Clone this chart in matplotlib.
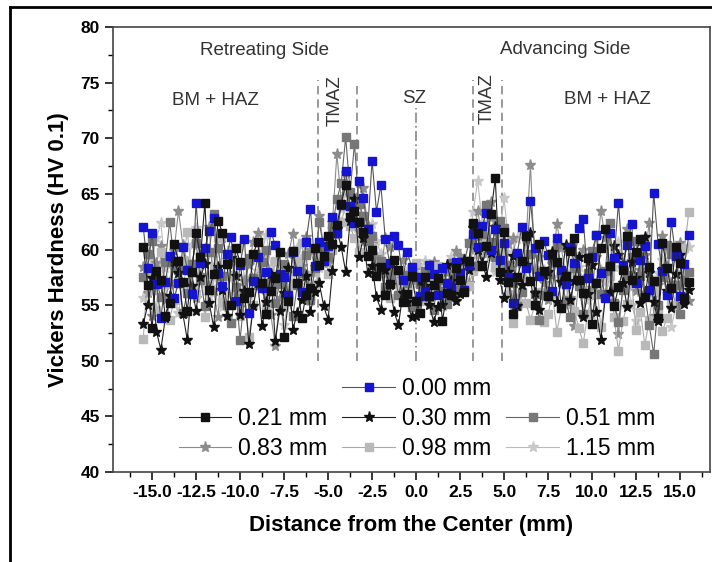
import numpy as np
import matplotlib
matplotlib.use("Agg")
import matplotlib.pyplot as plt
from matplotlib.lines import Line2D

plt.rcParams['font.family'] = ['Liberation Sans', 'DejaVu Sans']

# hardness profiles, one reading every 0.25 mm from -15.5 to 15.5 mm
hv_000 = [62.0, 58.3, 61.5, 56.9, 53.8, 57.1, 59.4, 55.6, 57.0, 60.2,
          58.2, 56.0, 64.2, 58.8, 60.1, 61.7, 62.8, 57.9, 56.7, 59.6,
          61.1, 55.4, 58.6, 60.9, 54.3, 57.2, 59.3, 56.5, 58.0, 61.6,
          60.4, 57.8, 57.5, 55.9, 59.8, 58.1, 56.2, 60.7, 63.6, 58.5,
          60.7, 59.0, 60.3, 62.9, 61.5, 64.0, 67.1, 63.9, 62.4, 66.2,
          64.6, 61.8, 68.0, 63.4, 65.8, 60.9, 58.8, 61.2, 60.4, 57.3,
          59.8, 58.4, 57.5, 55.8, 56.3, 58.6, 57.8, 55.9, 58.3, 57.0,
          56.6, 58.9, 57.9, 56.4, 58.6, 61.4, 60.2, 62.1, 63.3, 60.0,
          61.8, 59.1, 60.6, 57.5, 55.2, 59.7, 62.0, 58.3, 64.4, 60.1,
          57.6, 60.8, 59.5, 56.3, 61.0, 58.2, 56.9, 60.2, 58.8, 61.9,
          62.7, 57.4, 59.3, 61.3, 57.9, 55.6, 61.5, 59.2, 64.2, 58.6,
          60.4, 62.3, 57.0, 59.1, 60.3, 56.4, 65.1, 60.5, 58.1, 55.9,
          62.5, 59.4, 55.8, 58.7, 61.3]
hv_021 = [60.2, 56.8, 52.9, 58.1, 57.3, 54.0, 55.2, 60.5, 59.0, 57.1,
          54.5, 58.0, 61.5, 59.3, 64.2, 56.4, 57.8, 62.6, 61.5, 58.7,
          55.0, 60.1, 58.9, 55.6, 56.2, 59.6, 60.7, 57.0, 54.2, 56.3,
          57.4, 59.8, 52.1, 55.4, 59.9, 57.0, 53.8, 55.9, 56.5, 60.1,
          58.6, 59.4, 61.2, 60.5, 62.2, 64.1, 65.8, 62.9, 63.5, 62.5,
          61.6, 59.4, 60.0, 57.6, 58.4, 55.9, 56.9, 59.1, 58.2, 55.3,
          56.0, 57.6, 55.4, 54.3, 57.5, 55.8, 56.8, 57.4, 53.6, 56.1,
          55.9, 58.3, 57.3, 56.2, 59.0, 62.4, 61.5, 58.5, 60.3, 63.2,
          66.4, 58.0, 61.6, 57.1, 54.2, 57.5, 59.0, 61.2, 57.2, 55.0,
          60.5, 58.1, 55.8, 59.6, 58.9, 54.7, 57.6, 59.9, 61.0, 57.3,
          56.1, 59.2, 53.3, 57.0, 60.1, 61.8, 58.5, 54.9, 56.6, 58.2,
          61.2, 57.3, 59.8, 60.9, 55.7, 58.4, 57.2, 53.8, 60.6, 58.3,
          56.5, 60.2, 58.8, 55.6, 57.1]
hv_030 = [53.3, 55.0, 57.4, 52.6, 51.0, 53.8, 55.8, 58.9, 57.9, 54.2,
          51.9, 56.7, 54.5, 57.5, 58.7, 55.2, 53.0, 58.4, 56.4, 54.0,
          59.2, 57.6, 54.1, 56.3, 51.5, 54.9, 57.0, 53.1, 55.3, 57.8,
          51.8, 54.5, 56.1, 58.3, 52.8, 54.3, 55.5, 57.6, 54.4, 56.2,
          57.0, 54.9, 53.7, 58.1, 61.8, 60.2, 58.0, 62.6, 64.5, 59.3,
          61.0, 57.9, 58.5, 55.7, 54.6, 58.2, 56.8, 54.4, 53.2, 56.1,
          55.3, 53.9, 54.0, 57.2, 56.7, 55.0, 53.5, 54.8, 55.0, 58.6,
          57.2, 55.4, 56.0, 59.1, 58.2, 61.9, 60.0, 58.8, 57.5, 59.7,
          62.0, 57.3, 55.6, 58.0, 59.4, 54.9, 56.8, 58.6, 61.5, 56.1,
          54.6, 57.7, 58.0, 59.8, 55.3, 57.1, 60.4, 55.5, 57.2, 59.3,
          53.9, 56.0, 58.6, 54.4, 51.9, 55.7, 56.2, 60.3, 59.5, 57.0,
          54.8, 58.9, 57.4, 55.2, 61.1, 57.9, 55.3, 53.6, 58.2, 56.3,
          54.7, 57.8, 59.5, 55.1, 56.4]
hv_051 = [57.5, 59.6, 60.8, 57.2, 55.7, 58.9, 62.5, 59.0, 58.2, 54.3,
          56.1, 58.7, 60.6, 57.3, 54.9, 59.8, 63.2, 60.1, 57.6, 55.0,
          53.4, 56.6, 51.9, 55.8, 59.2, 57.4, 56.8, 58.9, 60.0, 57.1,
          55.2, 56.9, 58.7, 55.6, 54.0, 56.8, 57.9, 59.5, 55.5, 58.3,
          62.5, 60.1, 59.3, 62.0, 64.5, 66.0, 70.1, 65.2, 69.5, 64.1,
          63.0, 60.8, 61.2, 58.3, 59.0, 56.6, 57.6, 58.2, 55.9, 57.7,
          57.0, 54.8, 55.2, 56.9, 58.1, 55.7, 54.6, 57.3, 56.3, 55.1,
          58.8, 57.4, 56.4, 59.0, 60.6, 62.2, 58.5, 61.4, 64.0, 60.7,
          59.3, 62.6, 61.9, 58.6, 57.0, 54.9, 56.2, 58.4, 59.6, 56.0,
          53.7, 55.9, 57.8, 59.1, 60.5, 57.6, 55.4, 53.9, 58.3, 56.7,
          54.2, 57.9, 59.9, 61.3, 56.0, 58.1, 62.4, 55.2, 53.5, 56.4,
          57.7, 59.3, 60.8, 57.6, 55.9, 53.2, 50.6, 55.0, 57.5, 60.4,
          59.6, 56.8, 54.2, 57.3, 58.0]
hv_083 = [58.4, 56.1, 54.0, 58.8, 60.3, 55.5, 57.1, 59.9, 63.5, 60.4,
          58.9, 56.2, 55.6, 57.7, 59.8, 62.0, 56.3, 53.9, 61.0, 59.1,
          57.5, 55.3, 54.8, 57.2, 58.6, 60.7, 61.5, 57.8, 56.0, 54.1,
          51.3, 55.6, 57.3, 59.6, 61.4, 56.9, 58.5, 61.1, 60.0, 58.4,
          63.0, 60.2, 58.8, 62.4, 68.6, 64.3, 66.9, 64.8, 63.2, 61.7,
          65.5, 62.1, 60.5, 59.3, 58.1, 61.0, 60.2, 58.0, 57.4, 59.1,
          55.8, 57.3, 58.6, 55.9, 56.6, 57.7, 58.9, 56.2, 55.1, 58.0,
          57.6, 59.9, 59.4, 56.3, 57.0, 60.8, 63.5, 61.2, 59.6, 64.3,
          62.6, 59.7, 58.1, 60.5, 61.0, 58.8, 57.4, 60.9, 67.6, 58.2,
          59.3, 57.0, 55.5, 58.7, 62.3, 60.1, 57.8, 55.6, 53.1, 57.4,
          60.0, 58.9, 56.5, 59.3, 63.5, 61.0, 58.0, 55.2, 52.4, 56.6,
          61.8, 59.0, 56.3, 58.2, 59.5, 62.4, 54.0, 56.8, 61.2, 58.5,
          57.0, 54.9, 60.6, 57.9, 55.4]
hv_098 = [52.0, 57.9, 56.4, 54.6, 59.8, 56.9, 53.7, 55.5, 57.2, 59.1,
          61.6, 58.0, 56.0, 59.4, 53.9, 56.7, 58.4, 61.0, 55.3, 57.6,
          60.0, 56.3, 54.0, 55.8, 52.1, 55.0, 57.5, 59.3, 55.0, 56.6,
          59.0, 57.2, 54.8, 56.5, 57.0, 58.9, 60.6, 57.7, 56.1, 58.0,
          59.4, 60.7, 57.8, 60.0, 61.4, 62.5, 63.9, 62.1, 61.0, 59.8,
          62.8, 61.5, 60.2, 58.6, 57.9, 56.4, 55.6, 57.1, 58.0, 57.3,
          56.8, 55.5, 58.8, 57.0, 55.4, 56.2, 57.0, 58.5, 54.9, 55.7,
          56.0, 57.1, 58.2, 59.0, 56.7, 58.1, 59.6, 60.3, 61.0, 59.4,
          58.4, 60.5, 59.8, 56.0, 53.4, 55.6, 57.4, 55.2, 53.7, 55.0,
          56.2, 53.5, 54.2, 56.0, 52.6, 54.7, 56.8, 55.1, 54.5, 52.9,
          51.6, 54.2, 55.9, 57.1, 53.0, 55.8, 57.6, 53.9, 50.9, 53.6,
          55.1, 57.0, 52.8, 54.4, 51.4, 53.7, 56.3, 54.6, 52.7, 53.8,
          55.0, 56.9, 57.8, 60.1, 63.4]
hv_115 = [55.6, 57.8, 59.1, 61.0, 62.4, 58.3, 56.8, 55.1, 54.3, 56.9,
          58.5, 60.4, 61.9, 58.8, 57.0, 55.8, 59.7, 57.2, 54.8, 56.0,
          57.6, 59.0, 60.3, 57.4, 55.9, 57.0, 58.1, 59.9, 61.3, 58.5,
          56.7, 54.9, 53.2, 55.6, 57.9, 60.1, 59.2, 57.3, 55.4, 56.8,
          58.3, 59.6, 60.9, 61.8, 62.7, 63.6, 65.0, 63.1, 62.0, 61.5,
          60.7, 61.3, 62.3, 60.8, 59.6, 58.0, 58.3, 57.6, 56.5, 57.4,
          58.1, 57.7, 56.9, 58.2, 59.0, 57.3, 56.0, 56.8, 57.7, 58.5,
          59.3, 58.0, 56.9, 58.6, 60.8, 63.4, 66.2, 62.5, 61.2, 59.5,
          58.0, 61.3, 64.6, 60.7, 59.8, 60.9, 61.4, 59.2, 57.1, 58.3,
          59.9, 58.2, 56.4, 57.5, 58.7, 56.9, 55.2, 57.8, 59.6, 58.4,
          57.3, 55.5, 54.1, 56.3, 58.2, 57.1, 56.0, 58.4, 60.7, 59.0,
          57.2, 55.0, 53.6, 56.2, 58.8, 57.5, 55.7, 57.9, 59.1, 56.0,
          53.0, 54.8, 56.6, 58.9, 60.2]

labels = ['0.00 mm', '0.21 mm', '0.30 mm', '0.51 mm', '0.83 mm', '0.98 mm', '1.15 mm']
series = [hv_000, hv_021, hv_030, hv_051, hv_083, hv_098, hv_115]
markers = ['s', 's', '*', 's', '*', 's', '*']
mcolors = ['#1414d2', '#111111', '#111111', '#777777', '#8c8c8c', '#b9b9b9', '#c9c9c9']
lcolors = ['#555555', '#222222', '#222222', '#666666', '#8c8c8c', '#aaaaaa', '#bbbbbb']
msizes = [6, 6, 8, 6, 8, 6, 8]
draw_order = [6, 4, 5, 3, 2, 0, 1]

# zone boundaries
zone_lines = [-5.6, -3.35, 0.0, 3.25, 4.9]
zone_tops = [75.2, 75.0, 72.7, 75.2, 75.2]

fig = plt.figure(figsize=(7.12, 5.62), dpi=100)
ax = fig.add_axes([113 / 712, 90 / 562, 597 / 712, 445 / 562])

handles = {}
for i in draw_order:
    dist = np.linspace(-15.5, 15.5, len(series[i]))
    h, = ax.plot(dist, series[i], marker=markers[i], color=lcolors[i], lw=0.8,
                 mfc=mcolors[i], mec=mcolors[i], ms=msizes[i], label=labels[i])
    handles[labels[i]] = h

for xv, top in zip(zone_lines, zone_tops):
    ls = (0, (6, 2, 1, 2)) if xv == 0.0 else (0, (5, 3))
    ax.plot([xv, xv], [50, top], color='#888888', lw=1.2, ls=ls, zorder=0)

txt = dict(color='#333333', fontsize=13.5, ha='center', va='center')
ax.text(-8.6, 77.9, 'Retreating Side', **txt)
ax.text(8.5, 78.0, 'Advancing Side', **txt)
ax.text(-11.4, 73.4, 'BM + HAZ', **txt)
ax.text(10.9, 73.5, 'BM + HAZ', **txt)
ax.text(-0.1, 73.6, 'SZ', **txt)
ax.text(-4.6, 73.4, 'TMAZ', rotation=90, **txt)
ax.text(4.05, 73.6, 'TMAZ', rotation=90, **txt)

ax.set_xlim(-17.22, 16.7)
ax.set_ylim(40, 80)
ax.set_xticks(np.arange(-15, 15.1, 2.5))
ax.set_xticks(np.arange(-16.25, 16.3, 1.25), minor=True)
ax.set_yticks(np.arange(40, 81, 5))
ax.set_yticks(np.arange(40, 80.1, 2.5), minor=True)
ax.xaxis.set_major_formatter(plt.FormatStrFormatter('%.1f'))
ax.tick_params(which='major', direction='out', length=6, width=1.1, labelsize=12.5)
ax.tick_params(which='minor', direction='out', length=3.5, width=1.0)
for lab in ax.get_xticklabels() + ax.get_yticklabels():
    lab.set_fontweight('bold')
for sp in ax.spines.values():
    sp.set_color('#444444')
    sp.set_linewidth(1.2)

ax.set_xlabel('Distance from the Center (mm)', fontsize=16, fontweight='bold', labelpad=11)
ax.set_ylabel('Vickers Hardness (HV 0.1)', fontsize=16, fontweight='bold', labelpad=8)

blank = Line2D([], [], linestyle='none', marker='none')
order = [blank, handles['0.21 mm'], handles['0.83 mm'],
         handles['0.00 mm'], handles['0.30 mm'], handles['0.98 mm'],
         blank, handles['0.51 mm'], handles['1.15 mm']]
names = ['', '0.21 mm', '0.83 mm', '0.00 mm', '0.30 mm', '0.98 mm', '', '0.51 mm', '1.15 mm']
ax.legend(order, names, ncol=3, loc='center', bbox_to_anchor=(0.509, 0.12),
          frameon=False, fontsize=16.5, handlelength=2.3, handletextpad=0.3,
          columnspacing=0.65, labelspacing=0.3, borderpad=0)

# outer frame of the original figure (cropped at right and bottom)
fig.add_artist(Line2D([10 / 712, 10 / 712], [0, 1 - 7 / 562], color='black', lw=2))
fig.add_artist(Line2D([10 / 712, 1], [1 - 7 / 562, 1 - 7 / 562], color='black', lw=2))

fig.savefig('out.png', dpi=100)
